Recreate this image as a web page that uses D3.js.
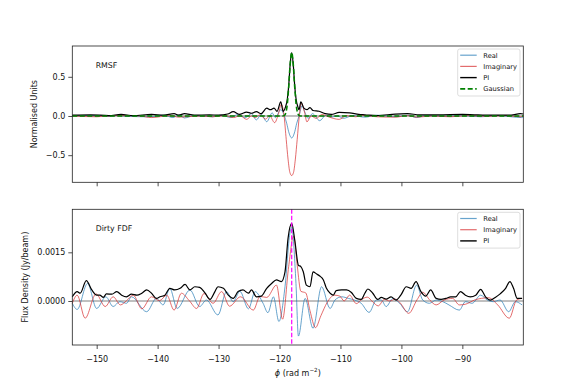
<!DOCTYPE html>
<html>
<head>
<meta charset="utf-8">
<script src="https://cdn.jsdelivr.net/npm/d3@7"></script>
<style>
  body{margin:0;background:#fff;}
  svg{font-family:"DejaVu Sans",sans-serif;display:block;}
</style>
</head>
<body>
<svg id="chart" width="581" height="388"></svg>
<script>
// axes and labels
const phiRange=[-154,-80];
const xTicks=[-150,-140,-130,-120,-110,-100,-90];
const rmsfTicks=[-0.5,0,0.5];
const rmsfRange=[-0.846,0.893];
const fdfTicks=[0,0.0015];
const fdfRange=[-0.001355,0.002825];
const peakPhi=-118;
const rmsfNames=["Real","Imaginary","PI","Gaussian"];
const fdfNames=["Real","Imaginary","PI"];

// RMSF, normalised units, [phi, value]
const rmsfReal=[[-154,0],[-151,0.005],[-148,-0.005],[-146.5,0.008],[-145,-0.005],[-141,-0.01],[-139,0.01],[-137.5,-0.02],[-136.5,0.015],[-135.6,-0.025],[-134,0.005],[-131,-0.01],[-129.5,0.01],[-128,-0.02],[-126.8,0.02],[-125.6,-0.02],[-124.6,0.03],[-123.8,-0.05],[-123,0.02],[-122.1,-0.073],[-121.2,0.04],[-120.7,-0.02],[-119.8,0.08],[-119.2,0],[-118.8,-0.1],[-118.5,-0.2],[-118,-0.28],[-117.5,-0.2],[-117.2,-0.1],[-116.8,0],[-116.3,0.13],[-115.9,0.06],[-115.3,-0.03],[-114.6,0.03],[-113.4,-0.06],[-112.4,0.01],[-111.5,-0.015],[-110.5,0],[-109.5,-0.03],[-108,0.005],[-106,-0.015],[-104,0.01],[-101,-0.01],[-99,0.01],[-97.5,-0.02],[-96,0.005],[-93,-0.005],[-90,0.005],[-87,-0.01],[-84,0.005],[-82,-0.01],[-80.3,-0.02],[-80,-0.015]];
const rmsfImag=[[-154,0],[-150,-0.01],[-147,0.005],[-143,0],[-141,-0.02],[-138,0.005],[-136.5,-0.015],[-133,0],[-131,-0.01],[-129,0.005],[-127.5,-0.02],[-126.5,0.005],[-125.4,-0.043],[-124.6,0],[-124,-0.02],[-123.2,0.015],[-122.3,-0.04],[-121.6,0],[-120.8,-0.085],[-120.2,0.02],[-119.7,0.15],[-119.25,0],[-118.9,-0.3],[-118.6,-0.55],[-118.3,-0.72],[-118,-0.76],[-117.7,-0.72],[-117.4,-0.55],[-117.1,-0.3],[-116.75,0],[-116.4,0.16],[-115.9,0.05],[-115.5,-0.075],[-114.8,0],[-114,-0.03],[-113,0.02],[-112,-0.01],[-110.2,-0.043],[-109,0.005],[-107.5,-0.01],[-106.5,0.01],[-104,-0.01],[-101,-0.015],[-99,0.005],[-97.5,-0.015],[-95,0],[-92,-0.01],[-89,0.005],[-86,-0.005],[-83,0.005],[-80.5,-0.01],[-80,0]];
const rmsfPI=[[-154,0.01],[-151,0.015],[-148,0.005],[-146,0.02],[-144,0.005],[-141,0.02],[-139,0.01],[-137.3,0.03],[-136.5,0.01],[-135.6,0.03],[-134,0.01],[-131.5,0.015],[-130,0.01],[-128.5,0.025],[-127.6,0.055],[-126.6,0.02],[-125.4,0.05],[-124.6,0.035],[-123.8,0.055],[-123,0.03],[-122.1,0.1],[-121.5,0.08],[-120.9,0.1],[-120.4,0.06],[-119.8,0.18],[-119.4,0.06],[-119,0.12],[-118.75,0.2],[-118.5,0.38],[-118.25,0.66],[-118,0.81],[-117.75,0.66],[-117.5,0.38],[-117.25,0.2],[-117,0.12],[-116.8,0.08],[-116.5,0.18],[-116,0.1],[-115.5,0.08],[-115,0.107],[-114.5,0.07],[-113.5,0.06],[-112.5,0.03],[-111.5,0.02],[-110.2,0.045],[-108.5,0.04],[-107,0.02],[-106,0.015],[-104,0.005],[-101,0.025],[-99,0.03],[-97,0.015],[-94,0.015],[-90,0.02],[-88,0.015],[-85,0.01],[-82,0.01],[-80.5,0.03],[-80,0.025]];
const rmsfGauss=[[-154,0],[-119.5,0],[-119.25,0.005],[-119,0.033],[-118.75,0.134],[-118.5,0.364],[-118.25,0.663],[-118,0.81],[-117.75,0.663],[-117.5,0.364],[-117.25,0.134],[-117,0.033],[-116.75,0.005],[-116.5,0],[-80,0]];

// Dirty FDF, 1e-4 Jy/beam, [phi, value]
const fdfReal=[[-154,-0.7],[-153.2,-2.6],[-151.5,5.4],[-150,-2.3],[-148.5,1.3],[-147.3,-1.7],[-146.2,-0.2],[-145.1,-0.7],[-144.3,1.3],[-141.8,-3.3],[-140.2,0.8],[-139.1,-1.2],[-138,3.9],[-136.8,-2.3],[-134.7,3.4],[-133.1,-1.7],[-132,0.3],[-130.1,-4.3],[-128.7,2.9],[-127.6,-0.2],[-126.5,3],[-125.1,-2.4],[-124,2.9],[-122.7,-0.7],[-121.9,-3.6],[-121,1.3],[-120.1,-6.3],[-119.1,4.4],[-118.3,20.8],[-118,22.7],[-117.3,5.4],[-116.9,-10.8],[-115.8,0.8],[-114.5,-8.4],[-113.1,4.4],[-111.7,-2.3],[-110.9,0.3],[-109.8,1.3],[-108.7,0.8],[-107.7,0.3],[-106.6,-0.7],[-105.3,-3.5],[-104.1,0.3],[-103.3,0.3],[-102.5,-1.7],[-101.4,0.8],[-100.3,-0.7],[-99,-3.3],[-97.5,4.9],[-96.5,0.3],[-95.4,-0.7],[-94.3,0.3],[-93.2,-0.2],[-92.2,-1.2],[-90.5,-2.8],[-89.5,-0.2],[-88.4,-0.7],[-87,1.8],[-85.9,0.3],[-84.9,-0.2],[-83.8,0.3],[-82.4,-3.3],[-81.3,-0.2],[-80.2,-1.2]];
const fdfImag=[[-154,-0.7],[-153.2,1.8],[-151.9,-5.3],[-150.1,2.2],[-148.6,-1.7],[-147.3,1.3],[-146.1,-1.2],[-145.1,0.1],[-144,1.8],[-142.6,-2.4],[-141,1.3],[-139.7,0.1],[-138.5,1.8],[-137.3,-2.8],[-136.1,2.4],[-134.8,0.1],[-133.6,-2.3],[-132.4,2.3],[-130.9,-0.7],[-129.5,2.9],[-128.2,-1.6],[-126.4,1.3],[-124.3,-2.8],[-123.2,1.4],[-122.1,1.1],[-120.5,4.9],[-119.5,-5.6],[-118.5,10.6],[-117.7,20],[-117.1,11],[-116.5,3],[-115.7,2.5],[-115,-3],[-114.1,-8.2],[-113.2,-4.5],[-112.2,-0.5],[-111,1.8],[-110.1,1.5],[-109.4,0],[-108.5,1.8],[-107.4,-0.8],[-106.5,0.5],[-105.6,1.2],[-104.7,-0.3],[-103.8,-1.5],[-102.8,0.5],[-101.9,0],[-101,0.6],[-100.2,-0.6],[-98.8,-3.8],[-97.4,0.5],[-96.5,2.7],[-95.3,0.2],[-94.3,-1.2],[-93,0.3],[-91.6,0.8],[-90.5,-1.2],[-89.5,-1],[-88,0.3],[-85.7,1],[-84.2,-1.2],[-82.3,-5.3],[-81.1,0.3],[-80.2,0.8]];
const fdfPI=[[-154,1.3],[-153.2,2.9],[-152.7,2.4],[-151.7,6.3],[-150.8,3.4],[-150,1.8],[-149.5,1.8],[-148.9,1.1],[-148.4,2.2],[-147.5,2.1],[-146.7,2.9],[-145.9,1.8],[-145.1,1.3],[-144.3,2.1],[-143.4,1.8],[-142.6,2.4],[-141.8,3.4],[-141,2.4],[-140.2,0.8],[-139.6,1.3],[-138.8,1.8],[-138,3.9],[-137.2,3.4],[-136.3,3.9],[-135.5,5.1],[-134.7,3.4],[-133.9,4.4],[-133.1,4.2],[-132.2,2.4],[-131.4,0.5],[-130.6,2.9],[-130.1,4.4],[-129.2,3.9],[-128.4,1.8],[-127.6,0.8],[-126.8,2.9],[-126,3.4],[-125.1,2.4],[-124.6,3.4],[-123.8,1.3],[-123,1.5],[-122.1,3.9],[-121.3,5.4],[-120.5,6.5],[-119.7,6],[-119.1,9],[-118.6,19.3],[-118,23.9],[-117.5,18.8],[-116.9,11],[-116.5,10.6],[-116.1,9],[-115.6,4.9],[-115,4.4],[-114.5,9],[-113.9,8.3],[-113.4,7.7],[-112.8,6.5],[-112.3,3.9],[-111.7,2.4],[-111.2,1.8],[-110.7,3.2],[-109.8,3.4],[-109,3.4],[-108.2,2.6],[-107.4,0.8],[-106.6,0.5],[-106,2.4],[-105.5,3.7],[-104.7,2.4],[-103.9,0.5],[-103.3,1.1],[-102.5,0.6],[-101.7,1.3],[-100.9,0.3],[-100.1,1.8],[-99.2,4.4],[-98.4,3.9],[-97.6,6],[-96.8,2.9],[-96,1.5],[-95.2,3.4],[-94.3,0.8],[-93.5,0.5],[-92.7,0.8],[-91.9,1.3],[-91.1,1.3],[-90.3,2.9],[-89.5,1.8],[-88.7,1.3],[-87.8,1.8],[-87,3.6],[-86.2,1.3],[-85.4,0.3],[-84.6,1.1],[-83.8,2.2],[-82.9,3.9],[-82.2,6],[-81.6,3.9],[-81,0.8],[-80.2,0.8]];

(function(){
  const svg=d3.select("#chart");
  const x=d3.scaleLinear().domain(phiRange).range([72.3,523.3]);
  const styles={
    Real:{color:"#1f77b4",opacity:.68,width:1},
    Imaginary:{color:"#d62728",opacity:.68,width:1},
    PI:{color:"#000",opacity:1,width:1.2},
    Gaussian:{color:"#008000",opacity:1,width:1.6,dash:"5,2.5"}
  };

  function panel(o){
    const y=d3.scaleLinear().domain(o.range).range([o.bottom,o.top]);
    const g=svg.append("g");
    const line=d3.line().x(d=>x(d[0])).y(d=>y(d[1]*o.unit)).curve(d3.curveMonotoneX);

    g.append("line").attr("x1",x.range()[0]).attr("x2",x.range()[1])
      .attr("y1",y(0)).attr("y2",y(0))
      .attr("stroke","#808080").attr("stroke-width",1);

    o.series.forEach(s=>{
      const st=styles[s.name];
      g.append("path").datum(s.data).attr("d",line)
        .attr("fill","none").attr("stroke",st.color)
        .attr("stroke-opacity",st.opacity).attr("stroke-width",st.width)
        .attr("stroke-dasharray",st.dash||null);
    });

    if(o.marker!=null){
      g.append("line").attr("x1",x(o.marker)).attr("x2",x(o.marker))
        .attr("y1",o.top).attr("y2",o.bottom)
        .attr("stroke","#ff00ff").attr("stroke-width",1.2).attr("stroke-dasharray","4.5,2");
    }

    g.append("g").attr("transform",`translate(0,${o.bottom})`)
      .call(d3.axisBottom(x).tickValues(xTicks).tickSize(4).tickPadding(7)
        .tickFormat(o.xLabels?d3.format("d"):""))
      .call(s=>s.select(".domain").remove())
      .call(s=>s.selectAll("line").attr("stroke","#222").attr("stroke-width",.8))
      .call(s=>s.selectAll("text").attr("font-size",8).attr("fill","#111").attr("font-family","DejaVu Sans"));

    g.append("g").attr("transform",`translate(${x.range()[0]},0)`)
      .call(d3.axisLeft(y).tickValues(o.ticks).tickSize(4).tickPadding(3).tickFormat(o.fmt))
      .call(s=>s.select(".domain").remove())
      .call(s=>s.selectAll("line").attr("stroke","#222").attr("stroke-width",.8))
      .call(s=>s.selectAll("text").attr("font-size",8).attr("fill","#111").attr("font-family","DejaVu Sans"));

    g.append("rect").attr("x",x.range()[0]).attr("y",o.top)
      .attr("width",x.range()[1]-x.range()[0]).attr("height",o.bottom-o.top)
      .attr("fill","none").attr("stroke","#222").attr("stroke-width",.8);

    g.append("text").attr("x",95.7).attr("y",o.titleY)
      .attr("font-size",7.8).attr("fill","#111").text(o.title);

    g.append("text")
      .attr("transform",`translate(${o.labelX},${(o.top+o.bottom)/2}) rotate(-90)`)
      .attr("text-anchor","middle").attr("font-size",8).attr("fill","#111").text(o.label);

    // legend
    const lg=g.append("g").attr("transform",`translate(457.7,${o.legendTop})`);
    lg.append("rect").attr("width",62.3).attr("height",o.names.length*11.2+2.2).attr("rx",2)
      .attr("fill","#fff").attr("fill-opacity",.8).attr("stroke","#d4d4d4").attr("stroke-width",.8);
    o.names.forEach((n,i)=>{
      const st=styles[n],yy=6.2+i*11.2;
      lg.append("line").attr("x1",2.5).attr("x2",19).attr("y1",yy).attr("y2",yy)
        .attr("stroke",st.color).attr("stroke-opacity",st.opacity)
        .attr("stroke-width",st.width+.2).attr("stroke-dasharray",st.dash||null);
      lg.append("text").attr("x",25.6).attr("y",yy).attr("dy","0.35em")
        .attr("font-size",6.7).attr("fill","#111").text(n);
    });
  }

  panel({top:46,bottom:182.3,range:rmsfRange,ticks:rmsfTicks,fmt:d3.format(".1f"),unit:1,
    title:"RMSF",titleY:68.3,label:"Normalised Units",labelX:36.5,xLabels:false,
    names:rmsfNames,legendTop:49,marker:null,
    series:[{name:"Real",data:rmsfReal},{name:"Imaginary",data:rmsfImag},
            {name:"PI",data:rmsfPI},{name:"Gaussian",data:rmsfGauss}]});

  panel({top:209.3,bottom:345,range:fdfRange,ticks:fdfTicks,fmt:d3.format(".4f"),unit:1e-4,
    title:"Dirty FDF",titleY:230.8,label:"Flux Density (Jy/beam)",labelX:27.5,xLabels:true,
    names:fdfNames,legendTop:212.3,marker:peakPhi,
    series:[{name:"Real",data:fdfReal},{name:"Imaginary",data:fdfImag},{name:"PI",data:fdfPI}]});

  const xl=svg.append("text").attr("x",(x.range()[0]+x.range()[1])/2).attr("y",375.5)
    .attr("text-anchor","middle").attr("font-size",8).attr("fill","#111");
  xl.append("tspan").attr("font-style","italic").text("ϕ");
  xl.append("tspan").text(" (rad m");
  xl.append("tspan").attr("font-size",5.6).attr("dy",-3.2).text("−2");
  xl.append("tspan").attr("dy",3.2).text(")");
})();
</script>
</body>
</html>
